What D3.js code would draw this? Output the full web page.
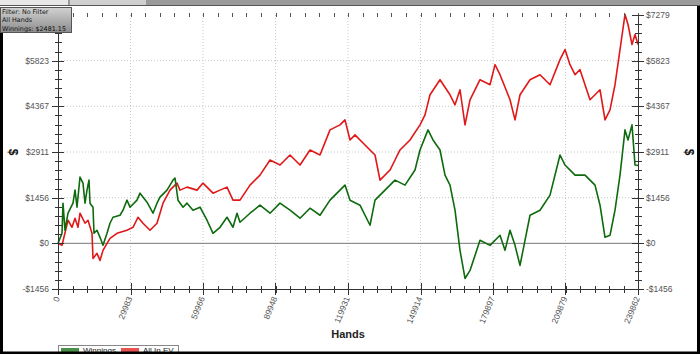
<!DOCTYPE html>
<html>
<head>
<meta charset="utf-8">
<script src="https://cdn.jsdelivr.net/npm/d3@7"></script>
<style>
  html, body { margin: 0; padding: 0; background: #fff; }
  svg { display: block; font-family: "Liberation Sans", Arial, sans-serif; }
</style>
</head>
<body>
<div id="chart"></div>
<script>
// hands played vs. dollars
const winHands = [0, 1654, 2068, 2895, 4136, 6203, 7031, 7858, 9098, 10339, 11166, 11993, 12820, 13234, 14475, 14889, 16129, 17370, 18610, 20264, 21505, 22746, 25641, 26881, 28536, 29776, 32671, 33912, 36807, 39288, 40942, 42183, 45078, 47559, 48387, 49627, 51695, 53349, 55831, 58726, 61621, 64102, 66997, 69892, 72373, 74027, 75268, 79404, 83540, 87675, 91811, 95946, 100082, 104218, 108353, 112489, 116624, 118692, 120760, 124895, 129031, 131099, 135234, 139370, 143505, 147641, 149709, 153017, 155085, 157980, 160048, 162115, 164183, 166251, 168319, 170387, 172455, 174522, 178658, 182794, 184861, 186929, 188997, 191065, 193133, 195200, 199336, 203471, 207607, 209675, 213811, 217946, 222082, 224150, 226218, 228285, 230353, 232421, 234489, 235730, 237384, 238625, 239862];
const winValues = [0, 320, 1280, 416, 960, 1280, 1696, 1152, 2112, 1920, 1280, 1696, 2016, 1280, 1152, 320, 416, 192, -64, 320, 640, 832, 896, 1056, 1376, 1152, 1376, 1600, 1312, 960, 1280, 1472, 1696, 2016, 2080, 1376, 1152, 1280, 1056, 1152, 736, 320, 512, 832, 512, 960, 672, 960, 1216, 960, 1280, 1056, 800, 1120, 896, 1376, 1696, 1856, 1376, 1216, 576, 1376, 1696, 2016, 1856, 2336, 2976, 3616, 3296, 2976, 2176, 1856, 1056, -224, -1120, -864, -384, 96, -64, 256, -224, 416, -64, -704, 96, 896, 1056, 1536, 2816, 2496, 2176, 2176, 1856, 1216, 192, 256, 1056, 2176, 3616, 3296, 3776, 2496, 2481];

const evHands = [0, 1654, 4136, 5790, 7031, 8271, 9098, 11166, 12407, 14061, 14475, 16129, 17370, 18610, 20264, 21505, 24400, 28536, 31017, 33085, 35152, 38047, 40942, 43424, 46319, 49214, 50454, 53349, 57485, 59966, 64102, 66997, 69892, 72373, 75268, 79404, 83540, 87675, 91811, 95946, 100082, 104218, 108353, 112489, 116624, 118692, 120760, 122828, 126963, 131099, 133167, 137302, 139370, 141438, 145573, 149709, 151777, 153844, 157980, 162115, 164183, 166251, 168319, 170387, 174522, 178658, 180726, 182794, 186929, 188997, 191065, 195200, 199336, 203471, 207607, 209675, 211742, 213811, 215878, 220014, 224150, 226218, 228285, 230353, 232421, 234489, 235730, 237384, 238625, 239862];
const evValues = [0, -64, 736, 512, 800, 512, 960, 640, 736, 320, -480, -320, -544, -224, 0, 160, 320, 416, 512, 832, 640, 416, 640, 1280, 1696, 1920, 1696, 1792, 1696, 1920, 1600, 1696, 1792, 1376, 1376, 1856, 2176, 2656, 2496, 2816, 2496, 2976, 2816, 3616, 3776, 3936, 3296, 3456, 3136, 2816, 2016, 2336, 2656, 2976, 3296, 3776, 4096, 4736, 5216, 4736, 4416, 4896, 3776, 4576, 5216, 5056, 5696, 5376, 4576, 3936, 4736, 5216, 5376, 5056, 5856, 6176, 5696, 5376, 5536, 4576, 4896, 3936, 4256, 5056, 6176, 7296, 6976, 6336, 6656, 6336];

const xTicks = [0, 29983, 59966, 89948, 119931, 149914, 179897, 209879, 239862];
const yTicks = [-1456, 0, 1456, 2911, 4367, 5823, 7279];
const infoLines = ["Filter: No Filter", "All Hands", "Winnings: $2481.15"];
const seriesNames = ["Winnings", "All In EV"];
const seriesColors = ["#0d6b0d", "#e01818"];

const width = 700, height = 354;
const plot = { left: 58, right: 638, top: 15, bottom: 289 };

const svg = d3.select("#chart").append("svg")
    .attr("width", width)
    .attr("height", height);

const x = d3.scaleLinear().domain([0, 239862]).range([plot.left, plot.right]);
const y = d3.scaleLinear().domain([-1455.8, 7279]).range([plot.bottom, plot.top]);

// tab strip at the very top
svg.append("rect").attr("x", 0).attr("y", 0).attr("width", width).attr("height", 6).attr("fill", "#9a9a9a");
svg.append("rect").attr("x", 0).attr("y", 5).attr("width", width).attr("height", 1).attr("fill", "#555");
svg.append("rect").attr("x", 0).attr("y", 0).attr("width", 68).attr("height", 5).attr("fill", "#e8e8e8");
svg.append("rect").attr("x", 70).attr("y", 0).attr("width", 76).attr("height", 5).attr("fill", "#d0d0d0");

// grid
const minorX = d3.range(0, 41).map(i => 239862 * i / 40);
const minorY = d3.range(0, 31).map(i => -1455.8 + 8734.8 * i / 30);

svg.append("g").selectAll("line")
    .data(xTicks.slice(1, -1))
    .enter().append("line")
    .attr("x1", d => x(d)).attr("x2", d => x(d))
    .attr("y1", plot.top).attr("y2", plot.bottom)
    .attr("stroke", "#c8c8c8")
    .attr("stroke-dasharray", "1,2");

svg.append("g").selectAll("line")
    .data(yTicks.slice(1, -1).filter(d => d !== 0))
    .enter().append("line")
    .attr("x1", plot.left).attr("x2", plot.right)
    .attr("y1", d => y(d)).attr("y2", d => y(d))
    .attr("stroke", "#c8c8c8")
    .attr("stroke-dasharray", "1,2");

svg.append("line")
    .attr("x1", plot.left).attr("x2", plot.right)
    .attr("y1", y(0)).attr("y2", y(0))
    .attr("stroke", "#777").attr("stroke-width", 1);

// series
const line = d3.line().x(d => x(d[0])).y(d => y(d[1]));
const series = [
    d3.zip(winHands, winValues),
    d3.zip(evHands, evValues)
];
// draw EV first so winnings sit on top
[1, 0].forEach(i => {
    svg.append("path")
        .datum(series[i])
        .attr("d", line)
        .attr("fill", "none")
        .attr("stroke", seriesColors[i])
        .attr("stroke-width", 1.6)
        .attr("stroke-linejoin", "round");
});

// axes
const axisColor = "#333";
const axes = svg.append("g").attr("stroke", axisColor).attr("stroke-width", 1);
axes.append("line").attr("x1", plot.left).attr("x2", plot.right).attr("y1", plot.bottom + 0.5).attr("y2", plot.bottom + 0.5);
axes.append("line").attr("x1", plot.left + 0.5).attr("x2", plot.left + 0.5).attr("y1", plot.top).attr("y2", plot.bottom);
axes.append("line").attr("x1", plot.right + 0.5).attr("x2", plot.right + 0.5).attr("y1", plot.top).attr("y2", plot.bottom);

// minor ticks, crossing the axis lines
axes.selectAll(".mxb").data(minorX).enter().append("line")
    .attr("x1", d => Math.round(x(d)) + 0.5).attr("x2", d => Math.round(x(d)) + 0.5)
    .attr("y1", plot.bottom - 3).attr("y2", plot.bottom + 4);
axes.selectAll(".mxt").data(minorX).enter().append("line")
    .attr("x1", d => Math.round(x(d)) + 0.5).attr("x2", d => Math.round(x(d)) + 0.5)
    .attr("y1", plot.top - 2).attr("y2", plot.top + 2)
    .attr("stroke", "#555");
axes.selectAll(".myl").data(minorY).enter().append("line")
    .attr("x1", plot.left - 3).attr("x2", plot.left + 4)
    .attr("y1", d => Math.round(y(d)) + 0.5).attr("y2", d => Math.round(y(d)) + 0.5);
axes.selectAll(".myr").data(minorY).enter().append("line")
    .attr("x1", plot.right - 3).attr("x2", plot.right + 4)
    .attr("y1", d => Math.round(y(d)) + 0.5).attr("y2", d => Math.round(y(d)) + 0.5);

// major ticks
axes.selectAll(".Mxb").data(xTicks).enter().append("line")
    .attr("x1", d => Math.round(x(d)) + 0.5).attr("x2", d => Math.round(x(d)) + 0.5)
    .attr("y1", plot.bottom - 6).attr("y2", plot.bottom + 6);
axes.selectAll(".Myl").data(yTicks).enter().append("line")
    .attr("x1", plot.left - 6).attr("x2", plot.left + 6)
    .attr("y1", d => Math.round(y(d)) + 0.5).attr("y2", d => Math.round(y(d)) + 0.5);
axes.selectAll(".Myr").data(yTicks).enter().append("line")
    .attr("x1", plot.right - 6).attr("x2", plot.right + 6)
    .attr("y1", d => Math.round(y(d)) + 0.5).attr("y2", d => Math.round(y(d)) + 0.5);

const money = d => (d < 0 ? "-$" : "$") + Math.abs(d);

svg.append("g").selectAll("text").data(yTicks).enter().append("text")
    .attr("x", plot.left - 9).attr("y", d => y(d) + 3)
    .attr("text-anchor", "end")
    .attr("font-size", 8.5).attr("fill", "#555")
    .text(money);
svg.append("g").selectAll("text").data(yTicks).enter().append("text")
    .attr("x", plot.right + 8).attr("y", d => y(d) + 3)
    .attr("text-anchor", "start")
    .attr("font-size", 8.5).attr("fill", "#555")
    .text(money);

svg.append("g").selectAll("text").data(xTicks).enter().append("text")
    .attr("transform", d => `translate(${x(d) + 2},${plot.bottom + 9}) rotate(-68)`)
    .attr("text-anchor", "end")
    .attr("font-size", 8.5).attr("fill", "#555")
    .text(d => d);

svg.append("text")
    .attr("x", (plot.left + plot.right) / 2).attr("y", 338)
    .attr("text-anchor", "middle")
    .attr("font-size", 11).attr("font-weight", "bold").attr("fill", "#222")
    .text("Hands");

[[9, 152], [685, 152]].forEach(p => {
    svg.append("text")
        .attr("transform", `translate(${p[0]},${p[1]}) rotate(90)`)
        .attr("text-anchor", "middle")
        .attr("font-size", 12).attr("font-weight", "bold").attr("fill", "#111")
        .text("$");
});

// info box top-left
const grad = svg.append("defs").append("linearGradient")
    .attr("id", "infoGrad").attr("x1", 0).attr("y1", 0).attr("x2", 0).attr("y2", 1);
grad.append("stop").attr("offset", "0%").attr("stop-color", "#d2d2d2");
grad.append("stop").attr("offset", "100%").attr("stop-color", "#8c8c8c");
svg.append("rect")
    .attr("x", 0.5).attr("y", 7.5).attr("width", 71).attr("height", 25)
    .attr("fill", "url(#infoGrad)").attr("stroke", "#555");
svg.append("g").selectAll("text").data(infoLines).enter().append("text")
    .attr("x", 2).attr("y", (d, i) => 13.5 + i * 8.5)
    .attr("font-family", "DejaVu Sans, sans-serif")
    .attr("font-size", 6.4).attr("fill", "#111")
    .text(d => d);

// legend, partly hidden by the frame below
const legend = svg.append("g");
legend.append("rect")
    .attr("x", 58.5).attr("y", 345.5).attr("width", 120).attr("height", 12)
    .attr("fill", "#fff").attr("stroke", "#888");
seriesNames.forEach((name, i) => {
    const lx = 61 + i * 60;
    legend.append("rect")
        .attr("x", lx).attr("y", 348).attr("width", 18).attr("height", 4)
        .attr("fill", seriesColors[i]).attr("opacity", 0.75);
    legend.append("text")
        .attr("x", lx + 22).attr("y", 352.5)
        .attr("font-size", 8).attr("fill", "#222")
        .text(name);
});

// black window frame
svg.append("rect").attr("x", 0).attr("y", 33).attr("width", 3).attr("height", height).attr("fill", "#000");
svg.append("rect").attr("x", 697).attr("y", 6).attr("width", 3).attr("height", height).attr("fill", "#000");
svg.append("rect").attr("x", 0).attr("y", 351.5).attr("width", width).attr("height", 3).attr("fill", "#000");
</script>
</body>
</html>
